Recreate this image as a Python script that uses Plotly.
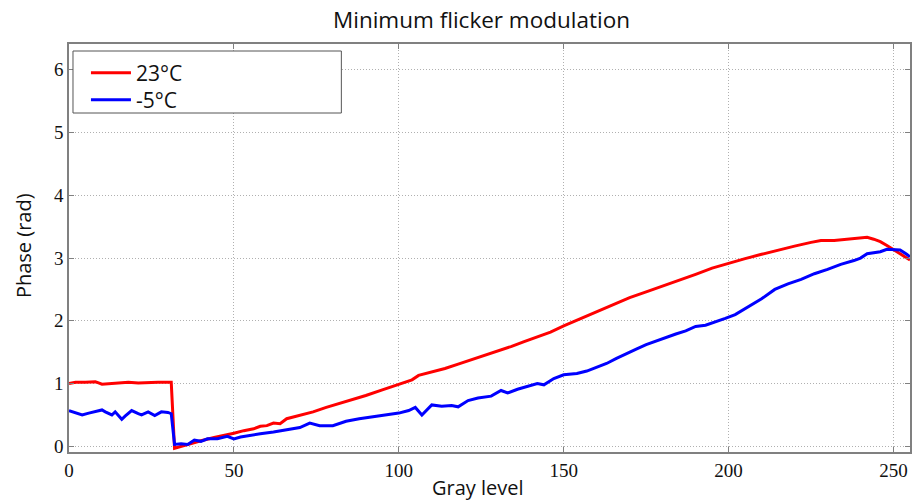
import plotly.graph_objects as go

# Gray levels and measured phase (rad) for the two temperatures
gray_23 = [0, 2, 5, 8, 10, 12, 15, 18, 21, 24, 27, 30, 31, 32, 34, 37, 40, 44, 48, 50,
           53, 56, 58, 60, 62, 64, 66, 70, 74, 78, 82, 86, 90, 95, 100, 104, 106, 110,
           114, 118, 122, 126, 130, 134, 138, 142, 146, 150, 155, 160, 165, 170, 175,
           180, 185, 190, 195, 200, 205, 210, 215, 220, 225, 228, 232, 236, 240, 242,
           244, 246, 248, 250, 252, 254, 255]
phase_23 = [1.00, 1.02, 1.02, 1.03, 0.99, 1.00, 1.01, 1.02, 1.01, 1.02, 1.02, 1.02, 1.02,
            -0.03, 0.00, 0.05, 0.09, 0.14, 0.18, 0.21, 0.25, 0.28, 0.32, 0.33, 0.37, 0.36,
            0.44, 0.49, 0.55, 0.62, 0.68, 0.74, 0.81, 0.90, 0.99, 1.06, 1.13, 1.18, 1.24,
            1.31, 1.38, 1.44, 1.52, 1.59, 1.67, 1.74, 1.82, 1.92, 2.03, 2.15, 2.26, 2.37,
            2.46, 2.55, 2.64, 2.74, 2.84, 2.92, 2.99, 3.06, 3.13, 3.19, 3.25, 3.28, 3.28,
            3.30, 3.33, 3.33, 3.30, 3.26, 3.20, 3.14, 3.07, 3.00, 2.97]

gray_m5 = [0, 2, 4, 6, 8, 10, 11, 13, 14, 16, 17, 19, 21, 22, 24, 26, 28, 30, 31, 32, 34,
           36, 38, 40, 42, 45, 48, 50, 52, 55, 58, 62, 66, 70, 73, 76, 80, 84, 88, 92, 96,
           100, 103, 105, 107, 110, 113, 116, 118, 121, 124, 128, 131, 133, 136, 139, 142,
           144, 147, 150, 154, 157, 160, 163, 166, 169, 172, 175, 178, 181, 184, 187, 190,
           193, 196, 199, 202, 206, 210, 214, 218, 222, 226, 230, 234, 238, 240, 242, 244,
           246, 248, 250, 252, 254, 255]
phase_m5 = [0.57, 0.53, 0.50, 0.53, 0.55, 0.58, 0.55, 0.50, 0.55, 0.43, 0.48, 0.57, 0.52,
            0.50, 0.55, 0.49, 0.55, 0.54, 0.52, 0.03, 0.04, 0.03, 0.10, 0.08, 0.12, 0.12,
            0.16, 0.12, 0.15, 0.18, 0.20, 0.23, 0.27, 0.30, 0.37, 0.33, 0.33, 0.40, 0.44,
            0.47, 0.50, 0.53, 0.57, 0.62, 0.50, 0.66, 0.64, 0.65, 0.63, 0.73, 0.77, 0.80,
            0.89, 0.85, 0.91, 0.96, 1.00, 0.98, 1.08, 1.14, 1.16, 1.20, 1.26, 1.32, 1.40,
            1.48, 1.55, 1.62, 1.68, 1.74, 1.79, 1.84, 1.91, 1.93, 1.98, 2.04, 2.10, 2.22,
            2.35, 2.50, 2.59, 2.66, 2.75, 2.82, 2.90, 2.96, 3.00, 3.07, 3.08, 3.10, 3.14,
            3.13, 3.13, 3.06, 3.02]

x_ticks = [0, 50, 100, 150, 200, 250]
y_ticks = [0, 1, 2, 3, 4, 5, 6]

W, H = 914, 503
M_L, M_R, M_T, M_B = 69, 2, 44, 51
plot_w, plot_h = W - M_L - M_R, H - M_T - M_B


def px_to_paper_x(px):
    return (px - M_L) / plot_w


def px_to_paper_y(py):
    return (H - M_B - py) / plot_h


fig = go.Figure()
fig.add_trace(go.Scatter(x=gray_23, y=phase_23, mode="lines", name="23°C",
                         line=dict(color="#ff0000", width=3), legend="legend"))
fig.add_trace(go.Scatter(x=gray_m5, y=phase_m5, mode="lines", name="-5°C",
                         line=dict(color="#0000ff", width=3), legend="legend2"))

sans = "Open Sans, Lato, sans-serif"
axis_common = dict(
    showline=True, linecolor="#808080", linewidth=1.5, mirror="ticks",
    ticks="inside", ticklen=5, tickcolor="#808080", tickwidth=1,
    showgrid=True, gridcolor="#b0b0b0", griddash="1px,2px", gridwidth=1,
    zeroline=False,
    tickfont=dict(family="Liberation Serif, Times New Roman, serif", size=19, color="#111"),
)

fig.update_xaxes(range=[0, 255], tickvals=x_ticks, **axis_common)
fig.update_yaxes(range=[-0.09, 6.41], tickvals=y_ticks, **axis_common)

# Axis titles
fig.add_annotation(text="Gray level", xref="paper", yref="paper",
                   x=px_to_paper_x(479), y=px_to_paper_y(488),
                   xanchor="center", yanchor="middle", showarrow=False,
                   font=dict(family=sans, size=20, color="#111"))
fig.add_annotation(text="Phase (rad)", xref="paper", yref="paper",
                   x=px_to_paper_x(23), y=px_to_paper_y(246), textangle=-90,
                   xanchor="center", yanchor="middle", showarrow=False,
                   font=dict(family=sans, size=20, color="#111"))

# Legend frame, wider than the entries themselves
fig.add_shape(type="rect", xref="paper", yref="paper",
              x0=px_to_paper_x(73), x1=px_to_paper_x(342),
              y0=px_to_paper_y(113), y1=px_to_paper_y(51),
              line=dict(color="#555", width=1), fillcolor="white", layer="above")

legend_style = dict(xanchor="left", yanchor="middle",
                    bgcolor="rgba(0,0,0,0)", borderwidth=0,
                    font=dict(family=sans, size=21, color="#111"),
                    itemwidth=40)

fig.update_layout(
    width=W, height=H,
    margin=dict(l=M_L, r=M_R, t=M_T, b=M_B),
    paper_bgcolor="white", plot_bgcolor="white",
    title=dict(text="Minimum flicker modulation", x=481.5 / W, xanchor="center",
               y=1 - 20 / H, yanchor="middle",
               font=dict(family=sans, size=22.5, color="#111")),
    legend=dict(x=px_to_paper_x(86), y=px_to_paper_y(73), **legend_style),
    legend2=dict(x=px_to_paper_x(86), y=px_to_paper_y(100), **legend_style),
    showlegend=True,
)

fig.write_html("out.html")
